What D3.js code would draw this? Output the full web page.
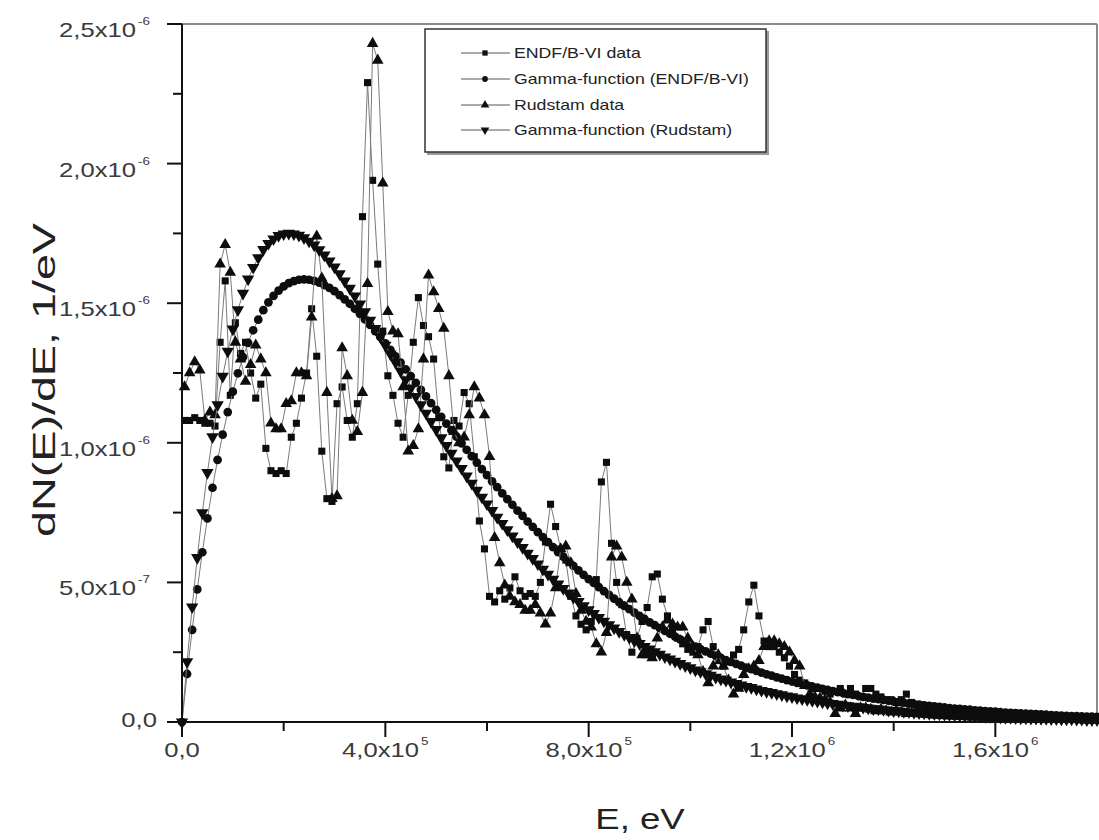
<!DOCTYPE html>
<html><head><meta charset="utf-8">
<script src="https://cdn.jsdelivr.net/npm/d3@7"></script>
<style>body{margin:0;background:#fff;} text{font-family:"Liberation Sans",Arial,sans-serif;}</style>
</head><body><svg id="c" width="1099" height="840"></svg>
<script>
// values are in units of 1e-6 1/eV
const valueUnit = 1e-6;
// data series tabulated every 10 keV starting at 5 keV
const dataEnergyKeV = d3.range(5, 1800, 10);
// gamma-function fits tabulated every 10 keV starting at 0
const gammaEnergyKeV = d3.range(0, 1801, 10);

const endfData = [
1.08,1.08,1.09,1.08,1.07,1.07,1.06,1.36,1.58,1.17,
1.43,1.32,1.36,1.25,1.16,1.21,0.98,0.90,0.89,0.90,
0.89,1.02,1.07,1.16,1.25,1.48,1.31,0.97,0.80,0.79,
1.14,1.20,1.08,1.02,1.14,1.81,2.29,1.94,1.64,1.40,
1.24,1.17,1.07,1.02,1.17,1.36,1.52,1.42,1.38,1.30,
1.09,0.95,0.91,1.08,1.06,1.18,1.14,0.95,0.72,0.62,
0.45,0.43,0.47,0.44,0.48,0.52,0.47,0.45,0.46,0.45,
0.50,0.645,0.78,0.70,0.62,0.58,0.45,0.38,0.35,0.33,
0.36,0.51,0.86,0.93,0.64,0.50,0.42,0.31,0.25,0.30,
0.36,0.41,0.52,0.53,0.44,0.38,0.33,0.30,0.28,0.26,
0.25,0.27,0.33,0.36,0.27,0.22,0.20,0.215,0.24,0.26,
0.33,0.43,0.49,0.38,0.29,0.27,0.27,0.25,0.23,0.20,
0.17,0.15,0.14,0.13,0.12,0.12,0.11,0.10,0.11,0.12,
0.10,0.12,0.10,0.09,0.12,0.12,0.10,0.09,0.08,0.08,
0.07,0.08,0.10,0.07,0.06,0.06,0.05,0.05,0.05,0.045,
0.045,0.04,0.04,0.04,0.035,0.035,0.035,0.03,0.03,0.03,
0.03,0.025,0.025,0.025,0.025,0.02,0.02,0.02,0.02,0.02,
0.02,0.018,0.018,0.017,0.016,0.016,0.015,0.015,0.014,0.014];

const rudstamData = [
1.20,1.25,1.29,1.26,1.08,1.11,1.10,1.64,1.71,1.61,
1.36,1.30,1.22,1.28,1.35,1.30,1.25,1.07,1.05,1.05,
1.14,1.15,1.25,1.25,1.24,1.45,1.74,1.59,1.18,0.80,
0.81,1.34,1.24,1.08,1.04,1.18,1.57,2.43,2.37,1.93,
1.47,1.40,1.39,1.20,0.97,0.99,1.05,1.30,1.60,1.54,
1.48,1.41,1.24,1.04,1.00,1.02,1.10,1.20,1.16,1.10,
0.95,0.66,0.57,0.49,0.45,0.43,0.42,0.40,0.40,0.42,
0.39,0.35,0.39,0.48,0.62,0.63,0.57,0.46,0.40,0.36,
0.34,0.28,0.25,0.32,0.59,0.63,0.59,0.50,0.44,0.30,
0.24,0.24,0.23,0.30,0.34,0.365,0.35,0.34,0.34,0.30,
0.27,0.24,0.18,0.14,0.20,0.24,0.20,0.15,0.10,0.12,
0.17,0.19,0.20,0.22,0.27,0.29,0.29,0.28,0.27,0.25,
0.22,0.20,0.13,0.10,0.09,0.085,0.08,0.07,0.03,0.05,
0.06,0.05,0.03,0.05,0.05,0.045,0.04,0.045,0.04,0.035,
0.04,0.035,0.03,0.03,0.03,0.028,0.026,0.025,0.024,0.023,
0.022,0.021,0.02,0.019,0.018,0.017,0.017,0.016,0.015,0.015,
0.014,0.013,0.013,0.012,0.012,0.011,0.011,0.010,0.010,0.010,
0.009,0.009,0.009,0.008,0.008,0.008,0.008,0.007,0.007,0.007];

const endfGamma = [
0,0.172,0.330,0.475,0.608,0.729,0.839,0.939,1.029,1.110,
1.183,1.249,1.307,1.358,1.403,1.441,1.475,1.503,1.526,1.545,
1.560,1.572,1.579,1.584,1.585,1.584,1.580,1.574,1.565,1.555,
1.543,1.529,1.514,1.498,1.480,1.462,1.442,1.422,1.400,1.379,
1.356,1.333,1.310,1.287,1.263,1.239,1.215,1.190,1.166,1.142,
1.118,1.093,1.069,1.045,1.022,0.998,0.975,0.952,0.929,0.906,
0.884,0.862,0.841,0.819,0.798,0.778,0.757,0.738,0.718,0.699,
0.680,0.662,0.644,0.626,0.608,0.592,0.575,0.559,0.543,0.527,
0.512,0.498,0.483,0.469,0.455,0.442,0.429,0.416,0.404,0.392,
0.380,0.369,0.357,0.347,0.336,0.326,0.316,0.306,0.296,0.287,
0.278,0.270,0.261,0.253,0.245,0.237,0.230,0.222,0.215,0.208,
0.202,0.195,0.189,0.183,0.177,0.171,0.166,0.160,0.155,0.150,
0.145,0.140,0.136,0.131,0.127,0.123,0.119,0.115,0.111,0.107,
0.104,0.100,0.097,0.094,0.090,0.087,0.084,0.082,0.079,0.076,
0.074,0.071,0.069,0.066,0.064,0.062,0.060,0.058,0.056,0.054,
0.052,0.050,0.048,0.047,0.045,0.044,0.042,0.041,0.039,0.038,
0.037,0.035,0.034,0.033,0.032,0.031,0.030,0.029,0.028,0.027,
0.026,0.025,0.024,0.023,0.022,0.021,0.021,0.020,0.019,0.019,
0.018];

const rudstamGamma = [
0,0.216,0.412,0.589,0.749,0.893,1.021,1.136,1.238,1.328,
1.407,1.476,1.535,1.586,1.628,1.663,1.692,1.714,1.730,1.742,
1.748,1.750,1.748,1.743,1.734,1.722,1.708,1.691,1.672,1.651,
1.629,1.605,1.579,1.553,1.526,1.497,1.469,1.439,1.409,1.379,
1.349,1.318,1.288,1.257,1.226,1.196,1.166,1.136,1.106,1.076,
1.047,1.018,0.990,0.962,0.935,0.908,0.881,0.855,0.830,0.805,
0.781,0.757,0.733,0.711,0.688,0.666,0.645,0.625,0.604,0.585,
0.566,0.547,0.529,0.511,0.494,0.478,0.462,0.446,0.431,0.416,
0.402,0.388,0.374,0.361,0.348,0.336,0.324,0.313,0.302,0.291,
0.281,0.270,0.261,0.251,0.242,0.233,0.225,0.217,0.209,0.201,
0.194,0.186,0.180,0.173,0.167,0.160,0.154,0.149,0.143,0.138,
0.132,0.127,0.123,0.118,0.113,0.109,0.105,0.101,0.097,0.093,
0.090,0.086,0.083,0.080,0.077,0.074,0.071,0.068,0.066,0.063,
0.060,0.058,0.056,0.054,0.052,0.050,0.047,0.046,0.044,0.042,
0.040,0.039,0.037,0.036,0.034,0.033,0.032,0.030,0.029,0.028,
0.027,0.026,0.025,0.024,0.023,0.022,0.021,0.020,0.019,0.019,
0.018,0.017,0.016,0.016,0.015,0.014,0.014,0.013,0.013,0.012,
0.012,0.011,0.011,0.010,0.010,0.010,0.009,0.009,0.008,0.008,
0.008];

const seriesNames = ["ENDF/B-VI data","Gamma-function (ENDF/B-VI)","Rudstam data","Gamma-function (Rudstam)"];
const xMajorTicks = [0, 4e5, 8e5, 1.2e6, 1.6e6];
const xTickMain = ["0,0","4,0x10","8,0x10","1,2x10","1,6x10"];
const xTickSup  = ["","5","5","6","6"];
const xMinorTicks = [2e5, 6e5, 1e6, 1.4e6];
const yMajorTicks = [0, 5e-7, 1e-6, 1.5e-6, 2e-6, 2.5e-6];
const yTickMain = ["0,0","5,0x10","1,0x10","1,5x10","2,0x10","2,5x10"];
const yTickSup  = ["","-7","-6","-6","-6","-6"];
const yMinorTicks = [2.5e-7, 7.5e-7, 1.25e-6, 1.75e-6, 2.25e-6];

const svg = d3.select("#c");
const x = d3.scaleLinear().domain([0, 1.8e6]).range([182, 1097]);
const y = d3.scaleLinear().domain([0, 2.5e-6]).range([722, 24]);
const SX = 1.22; // horizontal text stretch of the original figure

function stretch(node){ const w = node.getComputedTextLength(); node.setAttribute("textLength", w*SX); node.setAttribute("lengthAdjust","spacingAndGlyphs"); return w*SX; }

// frame
svg.append("line").attr("x1",x(0)).attr("x2",x(1.8e6)).attr("y1",y(2.5e-6)).attr("y2",y(2.5e-6)).attr("stroke","#8a8a8a").attr("stroke-width",2);
svg.append("line").attr("x1",x(1.8e6)).attr("x2",x(1.8e6)).attr("y1",y(0)).attr("y2",y(2.5e-6)).attr("stroke","#8a8a8a").attr("stroke-width",2);

// series
const mk = (vals, en) => vals.map((v,i)=>({e:en[i]*1e3, v:v*valueUnit}));
const series = [
  {name:seriesNames[0], pts:mk(endfData, dataEnergyKeV), sym:d3.symbolSquare, size:50, rot:0, leg:28},
  {name:seriesNames[1], pts:mk(endfGamma, gammaEnergyKeV), sym:d3.symbolCircle, size:60, rot:0, leg:26},
  {name:seriesNames[2], pts:mk(rudstamData, dataEnergyKeV), sym:d3.symbolTriangle, size:58, rot:0, leg:32},
  {name:seriesNames[3], pts:mk(rudstamGamma, gammaEnergyKeV), sym:d3.symbolTriangle, size:66, rot:180, leg:32}
];
const line = d3.line().x(d=>x(d.e)).y(d=>y(d.v));
const plot = svg.append("g");
series.forEach(s=>{
  const g = plot.append("g");
  g.append("path").attr("d", line(s.pts)).attr("fill","none").attr("stroke","#7a7a7a").attr("stroke-width",1);
  const sym = d3.symbol().type(s.sym).size(s.size)();
  g.selectAll("path.m").data(s.pts).join("path").attr("class","m").attr("d",sym)
   .attr("transform",d=>`translate(${x(d.e)},${y(d.v)}) rotate(${s.rot})`).attr("fill","#0d0d0d");
});

// axes
const ax = svg.append("g");
ax.append("line").attr("x1",x(0)).attr("x2",x(0)).attr("y1",y(0)+15).attr("y2",y(2.5e-6)).attr("stroke","#111").attr("stroke-width",2);
ax.append("line").attr("x1",x(0)-15).attr("x2",x(1.8e6)).attr("y1",y(0)).attr("y2",y(0)).attr("stroke","#111").attr("stroke-width",2);
xMajorTicks.forEach(t=>ax.append("line").attr("x1",x(t)).attr("x2",x(t)).attr("y1",y(0)).attr("y2",y(0)+15).attr("stroke","#111").attr("stroke-width",2));
xMinorTicks.forEach(t=>ax.append("line").attr("x1",x(t)).attr("x2",x(t)).attr("y1",y(0)).attr("y2",y(0)+9).attr("stroke","#111").attr("stroke-width",2));
yMajorTicks.forEach(t=>ax.append("line").attr("x1",x(0)-15).attr("x2",x(0)).attr("y1",y(t)).attr("y2",y(t)).attr("stroke","#111").attr("stroke-width",2));
yMinorTicks.forEach(t=>ax.append("line").attr("x1",x(0)-9).attr("x2",x(0)).attr("y1",y(t)).attr("y2",y(t)).attr("stroke","#111").attr("stroke-width",2));

const labCol = "#3a3a3a";
// y tick labels
yMajorTicks.forEach((t,i)=>{
  const ty = y(t);
  if (!yTickSup[i]) {
    const m = ax.append("text").attr("text-anchor","end").attr("x",157).attr("y",ty+5).attr("font-size",21).attr("fill",labCol).text(yTickMain[i]);
    stretch(m.node());
  } else {
    const s = ax.append("text").attr("text-anchor","end").attr("x",150).attr("y",ty+1).attr("font-size",11).attr("fill",labCol).text(yTickSup[i]);
    const ws = stretch(s.node());
    const m = ax.append("text").attr("text-anchor","end").attr("x",150-ws-2).attr("y",ty+13).attr("font-size",21).attr("fill",labCol).text(yTickMain[i]);
    stretch(m.node());
  }
});
// x tick labels
xMajorTicks.forEach((t,i)=>{
  const tx = x(t);
  const m = ax.append("text").attr("text-anchor","start").attr("y",757).attr("font-size",21).attr("fill",labCol).text(xTickMain[i]);
  const wm = stretch(m.node());
  let ws = 0, s=null;
  if (xTickSup[i]) { s = ax.append("text").attr("text-anchor","start").attr("y",745).attr("font-size",11).attr("fill",labCol).text(xTickSup[i]); ws = stretch(s.node()) + 2; }
  const start = tx - (wm+ws)/2;
  m.attr("x", start);
  if (s) s.attr("x", start+wm+2);
});

// axis titles
const xt = svg.append("text").attr("x",640).attr("y",829).attr("text-anchor","middle").attr("font-size",30).attr("fill","#222").text("E, eV");
stretch(xt.node());
svg.append("text").attr("transform","translate(55,380) rotate(-90)").attr("text-anchor","middle").attr("font-size",32).attr("fill","#222")
  .attr("textLength",314).attr("lengthAdjust","spacingAndGlyphs").text("dN(E)/dE, 1/eV");

// legend
const lg = svg.append("g");
lg.append("rect").attr("x",427).attr("y",31).attr("width",342).attr("height",124).attr("fill","#9a9a9a");
lg.append("rect").attr("x",425).attr("y",29).attr("width",341).attr("height",123).attr("fill","#fff").attr("stroke","#333").attr("stroke-width",1.5);
const rowsY = [53, 79, 105, 130];
series.forEach((s,i)=>{
  const ry = rowsY[i];
  lg.append("line").attr("x1",461).attr("x2",510).attr("y1",ry).attr("y2",ry).attr("stroke","#555").attr("stroke-width",1);
  lg.append("path").attr("d", d3.symbol().type(s.sym).size(s.leg)()).attr("transform",`translate(485,${ry}) rotate(${s.rot})`).attr("fill","#111");
  const tx = lg.append("text").attr("x",514).attr("y",ry+5).attr("font-size",14.5).attr("fill","#222").text(s.name);
  stretch(tx.node());
});
</script></body></html>
